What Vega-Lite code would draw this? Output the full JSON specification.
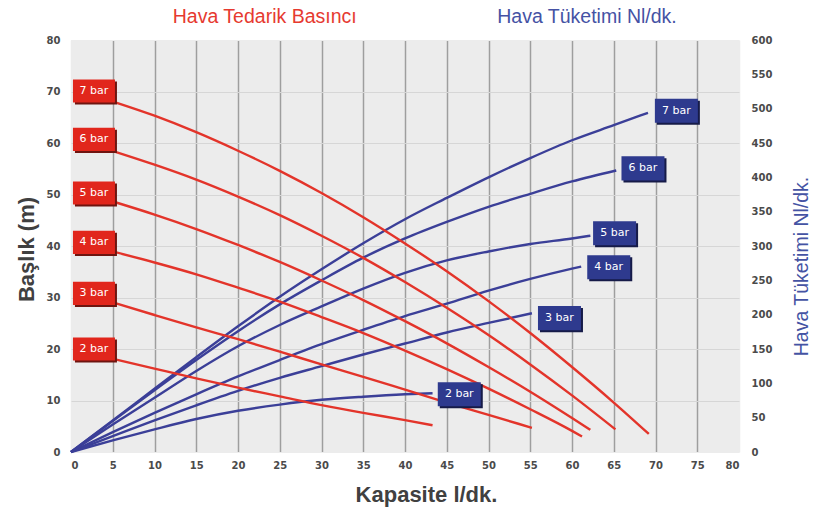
{
  "$schema": "https://vega.github.io/schema/vega-lite/v6.json",
  "width": 668,
  "height": 412,
  "autosize": {"type": "none"},
  "padding": {"left": 71, "top": 40, "right": 89, "bottom": 65},
  "background": "white",
  "config": {"view": {"fill": "#ececec", "stroke": null}, "font": "Liberation Sans"},
  "datasets": {
    "red": [
      {"bar": "7 bar", "x": 5.3, "head": 67.9}, {"bar": "7 bar", "x": 10, "head": 65.3}, {"bar": "7 bar", "x": 15, "head": 62.1}, {"bar": "7 bar", "x": 20, "head": 58.5}, {"bar": "7 bar", "x": 25, "head": 54.6}, {"bar": "7 bar", "x": 30, "head": 50.3}, {"bar": "7 bar", "x": 35, "head": 45.6}, {"bar": "7 bar", "x": 40, "head": 40.5}, {"bar": "7 bar", "x": 45, "head": 35.1}, {"bar": "7 bar", "x": 50, "head": 29.3}, {"bar": "7 bar", "x": 55, "head": 23.1}, {"bar": "7 bar", "x": 60, "head": 16.5}, {"bar": "7 bar", "x": 65, "head": 9.6}, {"bar": "7 bar", "x": 69.2, "head": 3.5},
      {"bar": "6 bar", "x": 5.3, "head": 58.3}, {"bar": "6 bar", "x": 10, "head": 55.8}, {"bar": "6 bar", "x": 15, "head": 52.9}, {"bar": "6 bar", "x": 20, "head": 49.6}, {"bar": "6 bar", "x": 25, "head": 46.0}, {"bar": "6 bar", "x": 30, "head": 42.0}, {"bar": "6 bar", "x": 35, "head": 37.7}, {"bar": "6 bar", "x": 40, "head": 33.0}, {"bar": "6 bar", "x": 45, "head": 28.0}, {"bar": "6 bar", "x": 50, "head": 22.7}, {"bar": "6 bar", "x": 55, "head": 17.0}, {"bar": "6 bar", "x": 60, "head": 11.0}, {"bar": "6 bar", "x": 65.2, "head": 4.4},
      {"bar": "5 bar", "x": 5.3, "head": 48.5}, {"bar": "5 bar", "x": 10, "head": 46.1}, {"bar": "5 bar", "x": 15, "head": 43.3}, {"bar": "5 bar", "x": 20, "head": 40.2}, {"bar": "5 bar", "x": 25, "head": 36.9}, {"bar": "5 bar", "x": 30, "head": 33.3}, {"bar": "5 bar", "x": 35, "head": 29.5}, {"bar": "5 bar", "x": 40, "head": 25.4}, {"bar": "5 bar", "x": 45, "head": 21.1}, {"bar": "5 bar", "x": 50, "head": 16.5}, {"bar": "5 bar", "x": 55, "head": 11.7}, {"bar": "5 bar", "x": 60, "head": 6.6}, {"bar": "5 bar", "x": 62.2, "head": 4.3},
      {"bar": "4 bar", "x": 5.3, "head": 38.8}, {"bar": "4 bar", "x": 10, "head": 36.8}, {"bar": "4 bar", "x": 15, "head": 34.5}, {"bar": "4 bar", "x": 20, "head": 31.9}, {"bar": "4 bar", "x": 25, "head": 29.2}, {"bar": "4 bar", "x": 30, "head": 26.2}, {"bar": "4 bar", "x": 35, "head": 23.1}, {"bar": "4 bar", "x": 40, "head": 19.7}, {"bar": "4 bar", "x": 45, "head": 16.1}, {"bar": "4 bar", "x": 50, "head": 12.3}, {"bar": "4 bar", "x": 55, "head": 8.3}, {"bar": "4 bar", "x": 60, "head": 4.1}, {"bar": "4 bar", "x": 61.2, "head": 3.0},
      {"bar": "3 bar", "x": 5.3, "head": 28.9}, {"bar": "3 bar", "x": 10, "head": 26.6}, {"bar": "3 bar", "x": 15, "head": 24.2}, {"bar": "3 bar", "x": 20, "head": 21.9}, {"bar": "3 bar", "x": 25, "head": 19.5}, {"bar": "3 bar", "x": 30, "head": 17.0}, {"bar": "3 bar", "x": 35, "head": 14.6}, {"bar": "3 bar", "x": 40, "head": 12.1}, {"bar": "3 bar", "x": 45, "head": 9.6}, {"bar": "3 bar", "x": 50, "head": 7.2}, {"bar": "3 bar", "x": 55.2, "head": 4.7},
      {"bar": "2 bar", "x": 5.3, "head": 18.0}, {"bar": "2 bar", "x": 10, "head": 16.2}, {"bar": "2 bar", "x": 15, "head": 14.3}, {"bar": "2 bar", "x": 20, "head": 12.5}, {"bar": "2 bar", "x": 25, "head": 10.8}, {"bar": "2 bar", "x": 30, "head": 9.1}, {"bar": "2 bar", "x": 35, "head": 7.6}, {"bar": "2 bar", "x": 40, "head": 6.2}, {"bar": "2 bar", "x": 43.3, "head": 5.2}
    ],
    "blue": [
      {"bar": "7 bar", "x": 0, "air": 0}, {"bar": "7 bar", "x": 5, "air": 46}, {"bar": "7 bar", "x": 10, "air": 92}, {"bar": "7 bar", "x": 15, "air": 138}, {"bar": "7 bar", "x": 20, "air": 183}, {"bar": "7 bar", "x": 25, "air": 226}, {"bar": "7 bar", "x": 30, "air": 266}, {"bar": "7 bar", "x": 35, "air": 304}, {"bar": "7 bar", "x": 40, "air": 339}, {"bar": "7 bar", "x": 45, "air": 370}, {"bar": "7 bar", "x": 50, "air": 400}, {"bar": "7 bar", "x": 55, "air": 428}, {"bar": "7 bar", "x": 60, "air": 454}, {"bar": "7 bar", "x": 65, "air": 476}, {"bar": "7 bar", "x": 69.1, "air": 494},
      {"bar": "6 bar", "x": 0, "air": 0}, {"bar": "6 bar", "x": 5, "air": 45}, {"bar": "6 bar", "x": 10, "air": 90}, {"bar": "6 bar", "x": 15, "air": 134}, {"bar": "6 bar", "x": 20, "air": 176}, {"bar": "6 bar", "x": 25, "air": 215}, {"bar": "6 bar", "x": 30, "air": 250}, {"bar": "6 bar", "x": 35, "air": 283}, {"bar": "6 bar", "x": 40, "air": 311}, {"bar": "6 bar", "x": 45, "air": 335}, {"bar": "6 bar", "x": 50, "air": 357}, {"bar": "6 bar", "x": 55, "air": 376}, {"bar": "6 bar", "x": 60, "air": 394}, {"bar": "6 bar", "x": 65.3, "air": 410},
      {"bar": "5 bar", "x": 0, "air": 0}, {"bar": "5 bar", "x": 5, "air": 40}, {"bar": "5 bar", "x": 10, "air": 79}, {"bar": "5 bar", "x": 15, "air": 118}, {"bar": "5 bar", "x": 20, "air": 154}, {"bar": "5 bar", "x": 25, "air": 185}, {"bar": "5 bar", "x": 30, "air": 212}, {"bar": "5 bar", "x": 35, "air": 238}, {"bar": "5 bar", "x": 40, "air": 261}, {"bar": "5 bar", "x": 45, "air": 279}, {"bar": "5 bar", "x": 50, "air": 292}, {"bar": "5 bar", "x": 55, "air": 303}, {"bar": "5 bar", "x": 60, "air": 311}, {"bar": "5 bar", "x": 62.2, "air": 315},
      {"bar": "4 bar", "x": 0, "air": 0}, {"bar": "4 bar", "x": 5, "air": 29}, {"bar": "4 bar", "x": 10, "air": 57}, {"bar": "4 bar", "x": 15, "air": 84}, {"bar": "4 bar", "x": 20, "air": 110}, {"bar": "4 bar", "x": 25, "air": 134}, {"bar": "4 bar", "x": 30, "air": 157}, {"bar": "4 bar", "x": 35, "air": 178}, {"bar": "4 bar", "x": 40, "air": 198}, {"bar": "4 bar", "x": 45, "air": 216}, {"bar": "4 bar", "x": 50, "air": 235}, {"bar": "4 bar", "x": 55, "air": 252}, {"bar": "4 bar", "x": 60, "air": 267}, {"bar": "4 bar", "x": 61.1, "air": 270},
      {"bar": "3 bar", "x": 0, "air": 0}, {"bar": "3 bar", "x": 5, "air": 23}, {"bar": "3 bar", "x": 10, "air": 46}, {"bar": "3 bar", "x": 15, "air": 68}, {"bar": "3 bar", "x": 20, "air": 89}, {"bar": "3 bar", "x": 25, "air": 108}, {"bar": "3 bar", "x": 30, "air": 125}, {"bar": "3 bar", "x": 35, "air": 142}, {"bar": "3 bar", "x": 40, "air": 158}, {"bar": "3 bar", "x": 45, "air": 174}, {"bar": "3 bar", "x": 50, "air": 188}, {"bar": "3 bar", "x": 55.2, "air": 202},
      {"bar": "2 bar", "x": 0, "air": 0}, {"bar": "2 bar", "x": 5, "air": 17}, {"bar": "2 bar", "x": 10, "air": 33}, {"bar": "2 bar", "x": 15, "air": 48}, {"bar": "2 bar", "x": 20, "air": 60}, {"bar": "2 bar", "x": 25, "air": 69}, {"bar": "2 bar", "x": 30, "air": 76}, {"bar": "2 bar", "x": 35, "air": 80.5}, {"bar": "2 bar", "x": 40, "air": 84}, {"bar": "2 bar", "x": 43.3, "air": 85.5}
    ],
    "redLabels": [
      {"bar": "7 bar", "x": 2.75, "head": 70.1},
      {"bar": "6 bar", "x": 2.75, "head": 60.7},
      {"bar": "5 bar", "x": 2.75, "head": 50.3},
      {"bar": "4 bar", "x": 2.75, "head": 40.7},
      {"bar": "3 bar", "x": 2.75, "head": 30.8},
      {"bar": "2 bar", "x": 2.75, "head": 20.0}
    ],
    "blueLabels": [
      {"bar": "7 bar", "x": 72.5, "air": 497},
      {"bar": "6 bar", "x": 68.5, "air": 413},
      {"bar": "5 bar", "x": 65.1, "air": 318.5},
      {"bar": "4 bar", "x": 64.4, "air": 269},
      {"bar": "3 bar", "x": 58.5, "air": 195},
      {"bar": "2 bar", "x": 46.5, "air": 84}
    ],
    "headers": [
      {"text": "Hava Tedarik Basıncı", "side": "supply", "x": 23.2, "head": 84.4},
      {"text": "Hava Tüketimi Nl/dk.", "side": "consumption", "x": 61.8, "head": 84.4}
    ]
  },
  "layer": [
    {
      "data": {"name": "blue"},
      "mark": {"type": "line", "color": "#3b3f98", "strokeWidth": 2.4, "interpolate": "monotone"},
      "encoding": {
        "x": {"field": "x", "type": "quantitative", "scale": {"domain": [0, 80], "nice": false},
          "axis": {"values": [0, 5, 10, 15, 20, 25, 30, 35, 40, 45, 50, 55, 60, 65, 70, 75, 80], "grid": true, "gridWidth": 1.5, "gridColor": {"condition": {"test": "datum.value === 0 || datum.value === 80", "value": "#ececec"}, "value": "#9e9e9e"}, "ticks": false, "domain": false, "labelFont": "DejaVu Sans", "labelFontWeight": "bold", "labelFontSize": 10, "labelColor": "#4a4a4a", "labelPadding": 8, "title": "Kapasite l/dk.", "titleFont": "Liberation Sans", "titleFontSize": 22, "titleFontWeight": "bold", "titleColor": "#404040", "titleX": 355, "titleY": 42, "titleBaseline": "middle", "titleAlign": "center"}},
        "y": {
          "field": "air", "type": "quantitative",
          "scale": {"domain": [0, 600], "nice": false},
          "axis": {
            "orient": "right", "values": [0, 50, 100, 150, 200, 250, 300, 350, 400, 450, 500, 550, 600],
            "grid": false, "ticks": false, "domain": false,
            "labelFont": "DejaVu Sans", "labelFontWeight": "bold", "labelFontSize": 10, "labelColor": "#4a4a4a", "labelPadding": 12,
            "title": "Hava Tüketimi Nl/dk.", "titleColor": "#4453a3", "titleFont": "Liberation Sans", "titleFontSize": 19.5, "titleFontWeight": "normal",
            "titleAngle": 270, "titleX": 62, "titleY": 226, "titleBaseline": "middle", "titleAlign": "center"
          }
        },
        "detail": {"field": "bar"}
      }
    },
    {
      "data": {"name": "red"},
      "mark": {"type": "line", "color": "#e3342a", "strokeWidth": 2.4, "interpolate": "monotone"},
      "encoding": {
        "x": {"field": "x", "type": "quantitative", "scale": {"domain": [0, 80], "nice": false},
          "axis": {"values": [0, 5, 10, 15, 20, 25, 30, 35, 40, 45, 50, 55, 60, 65, 70, 75, 80], "grid": true, "gridWidth": 1.5, "gridColor": {"condition": {"test": "datum.value === 0 || datum.value === 80", "value": "#ececec"}, "value": "#9e9e9e"}, "ticks": false, "domain": false, "labelFont": "DejaVu Sans", "labelFontWeight": "bold", "labelFontSize": 10, "labelColor": "#4a4a4a", "labelPadding": 8, "title": "Kapasite l/dk.", "titleFont": "Liberation Sans", "titleFontSize": 22, "titleFontWeight": "bold", "titleColor": "#404040", "titleX": 355, "titleY": 42, "titleBaseline": "middle", "titleAlign": "center"}},
        "y": {
          "field": "head", "type": "quantitative", "scale": {"domain": [0, 80], "nice": false},
          "axis": {
            "orient": "left", "values": [0, 10, 20, 30, 40, 50, 60, 70, 80],
            "grid": true, "gridWidth": 1,
            "gridColor": {"condition": {"test": "datum.value === 0 || datum.value === 80", "value": "#ececec"}, "value": "#d6d6d6"},
            "ticks": false, "domain": false,
            "labelFont": "DejaVu Sans", "labelFontWeight": "bold", "labelFontSize": 10, "labelColor": "#4a4a4a", "labelPadding": 11,
            "title": "Başlık (m)", "titleFont": "Liberation Sans", "titleFontSize": 22, "titleFontWeight": "bold", "titleColor": "#404040",
            "titleAngle": 270, "titleX": -45, "titleY": 209, "titleBaseline": "middle", "titleAlign": "center"
          }
        },
        "detail": {"field": "bar"}
      }
    },
    {
      "data": {"name": "blueLabels"},
      "encoding": {
        "x": {"field": "x", "type": "quantitative", "scale": {"domain": [0, 80], "nice": false},
          "axis": {"values": [0, 5, 10, 15, 20, 25, 30, 35, 40, 45, 50, 55, 60, 65, 70, 75, 80], "grid": true, "gridWidth": 1.5, "gridColor": {"condition": {"test": "datum.value === 0 || datum.value === 80", "value": "#ececec"}, "value": "#9e9e9e"}, "ticks": false, "domain": false, "labelFont": "DejaVu Sans", "labelFontWeight": "bold", "labelFontSize": 10, "labelColor": "#4a4a4a", "labelPadding": 8, "title": "Kapasite l/dk.", "titleFont": "Liberation Sans", "titleFontSize": 22, "titleFontWeight": "bold", "titleColor": "#404040", "titleX": 355, "titleY": 42, "titleBaseline": "middle", "titleAlign": "center"}},
        "y": {"field": "air", "type": "quantitative", "scale": {"domain": [0, 600], "nice": false}, "axis": null}
      },
      "layer": [
        {"mark": {"type": "point", "shape": "M-1,-0.56L1,-0.56L1,0.56L-1,0.56Z", "size": 1849, "filled": true, "color": "#161b48", "opacity": 1, "xOffset": 2, "yOffset": 2}},
        {"mark": {"type": "point", "shape": "M-1,-0.56L1,-0.56L1,0.56L-1,0.56Z", "size": 1849, "filled": true, "color": "#2e3a8e", "opacity": 1}},
        {"mark": {"type": "text", "color": "white", "font": "DejaVu Sans", "fontSize": 11}, "encoding": {"text": {"field": "bar"}}}
      ]
    },
    {
      "encoding": {
        "x": {"field": "x", "type": "quantitative", "scale": {"domain": [0, 80], "nice": false},
          "axis": {"values": [0, 5, 10, 15, 20, 25, 30, 35, 40, 45, 50, 55, 60, 65, 70, 75, 80], "grid": true, "gridWidth": 1.5, "gridColor": {"condition": {"test": "datum.value === 0 || datum.value === 80", "value": "#ececec"}, "value": "#9e9e9e"}, "ticks": false, "domain": false, "labelFont": "DejaVu Sans", "labelFontWeight": "bold", "labelFontSize": 10, "labelColor": "#4a4a4a", "labelPadding": 8, "title": "Kapasite l/dk.", "titleFont": "Liberation Sans", "titleFontSize": 22, "titleFontWeight": "bold", "titleColor": "#404040", "titleX": 355, "titleY": 42, "titleBaseline": "middle", "titleAlign": "center"}},
        "y": {"field": "head", "type": "quantitative", "scale": {"domain": [0, 80], "nice": false}, "axis": null}
      },
      "layer": [
        {
          "data": {"name": "redLabels"},
          "layer": [
            {"mark": {"type": "point", "shape": "M-1,-0.55L1,-0.55L1,0.55L-1,0.55Z", "size": 1764, "filled": true, "color": "#6e1510", "opacity": 1, "xOffset": 2, "yOffset": 2}},
            {"mark": {"type": "point", "shape": "M-1,-0.55L1,-0.55L1,0.55L-1,0.55Z", "size": 1764, "filled": true, "color": "#e1261c", "opacity": 1}},
            {"mark": {"type": "text", "color": "white", "font": "DejaVu Sans", "fontSize": 11}, "encoding": {"text": {"field": "bar"}}}
          ]
        },
        {
          "data": {"name": "headers"},
          "mark": {"type": "text", "font": "Liberation Sans", "fontSize": 19.5, "baseline": "middle", "align": "center"},
          "encoding": {
            "text": {"field": "text"},
            "color": {"field": "side", "type": "nominal", "scale": {"domain": ["supply", "consumption"], "range": ["#e63a30", "#4552a4"]}, "legend": null}
          }
        }
      ]
    }
  ],
  "resolve": {"scale": {"y": "independent"}}
}
